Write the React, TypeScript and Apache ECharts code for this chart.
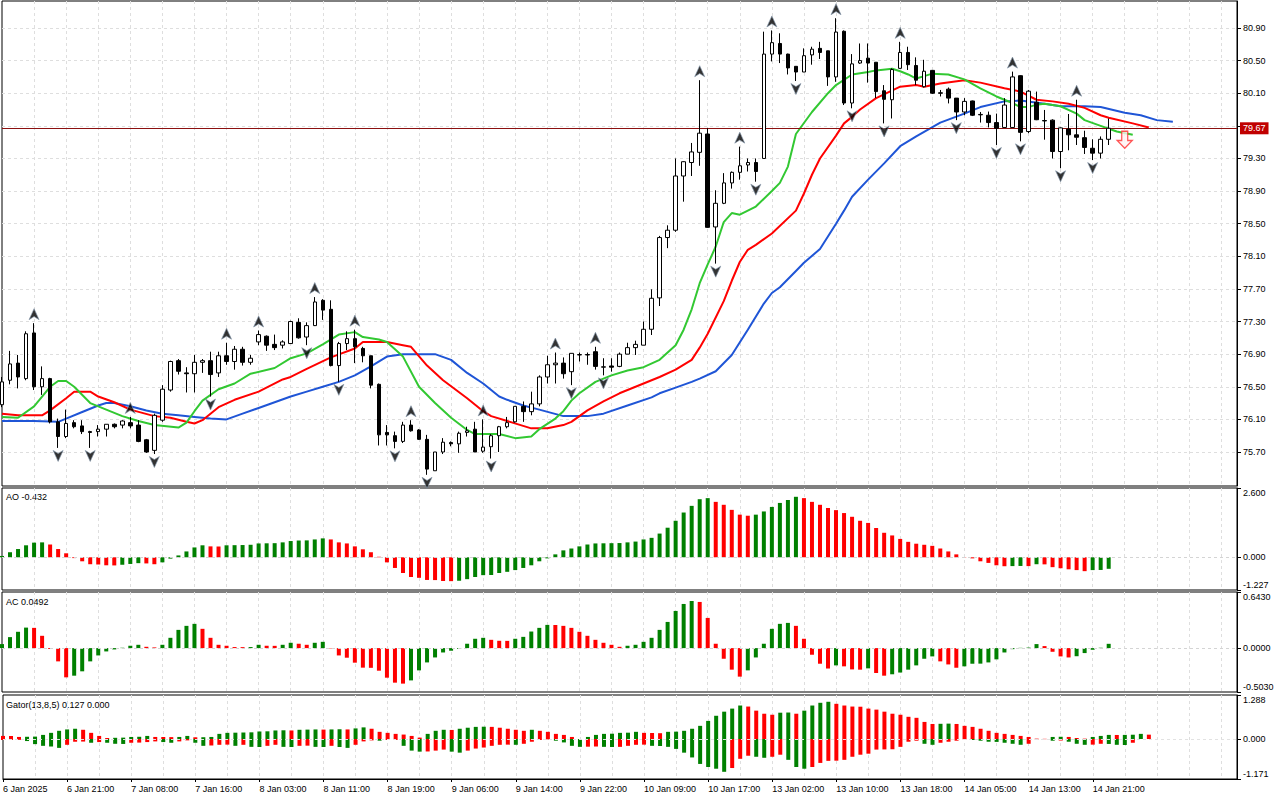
import React, { useEffect, useRef } from "react";
import * as echarts from "echarts";

// ---------- data ----------
const timeLabels = [
  "6 Jan 2025", "6 Jan 21:00", "7 Jan 08:00", "7 Jan 16:00", "8 Jan 03:00", "8 Jan 11:00",
  "8 Jan 19:00", "9 Jan 06:00", "9 Jan 14:00", "9 Jan 22:00", "10 Jan 09:00", "10 Jan 17:00",
  "13 Jan 02:00", "13 Jan 10:00", "13 Jan 18:00", "14 Jan 05:00", "14 Jan 13:00", "14 Jan 21:00",
];

const open = [
  76.28, 76.58, 76.79, 76.60, 77.16, 76.50, 76.60, 76.07, 75.89, 76.06,
  76.02, 75.95, 75.95, 75.98, 76.04, 76.03, 76.06, 76.03, 75.85, 75.72,
  76.09, 76.46, 76.82, 76.67, 76.66, 76.80, 76.82, 76.67, 76.88, 76.81,
  76.96, 76.80, 77.05, 77.12, 77.02, 77.01, 77.03, 77.29, 77.11, 77.25,
  77.56, 77.45, 76.76, 77.03, 77.09, 76.97, 76.88, 76.53, 75.94, 75.90,
  75.83, 76.03, 75.97, 75.855, 75.47, 75.70, 75.815, 75.80, 75.94, 75.98,
  75.71, 75.765, 75.90, 76.01, 76.07, 76.26, 76.195, 76.29, 76.62, 76.77,
  76.79, 76.685, 76.89, 76.895, 76.93, 76.74, 76.755, 76.75, 76.90, 76.98,
  77.01, 77.205, 77.59, 78.33, 78.42, 79.085, 79.25, 79.375, 79.60, 78.46,
  78.75, 79.00, 79.13, 79.22, 79.25, 79.30, 80.58, 80.71, 80.58, 80.43,
  80.36, 80.57, 80.65, 80.62, 80.30, 80.86, 79.98, 80.47, 80.53, 80.48,
  80.13, 80.02, 80.405, 80.60, 80.44, 80.18, 80.38, 80.105, 80.15, 80.04,
  79.87, 80.005, 79.84, 79.83, 79.74, 79.68, 79.68, 80.315, 79.63, 79.99,
  79.765, 79.77, 79.385, 79.66, 79.59, 79.555, 79.425, 79.365, 79.535,
];
const high = [
  76.62, 76.94, 76.89, 77.18, 77.28, 76.75, 76.61, 76.11, 76.22, 76.09,
  76.09, 75.96, 76.03, 76.04, 76.05, 76.09, 76.13, 76.09, 75.86, 76.17,
  76.52, 76.82, 76.84, 76.74, 76.89, 76.84, 76.93, 76.93, 77.04, 77.00,
  76.99, 76.89, 77.19, 77.13, 77.14, 77.07, 77.31, 77.34, 77.29, 77.60,
  77.575, 77.56, 77.05, 77.18, 77.20, 76.99, 76.88, 76.54, 76.03, 75.95,
  76.07, 76.09, 75.98, 75.91, 75.70, 75.87, 75.83, 75.95, 76.01, 76.07,
  76.10, 75.92, 76.02, 76.13, 76.26, 76.32, 76.44, 76.64, 76.88, 76.92,
  76.86, 76.91, 76.92, 76.92, 76.99, 76.85, 76.85, 76.92, 77.04, 77.065,
  77.30, 77.695, 78.35, 78.48, 79.30, 79.265, 79.49, 80.26, 79.67, 78.91,
  79.12, 79.14, 79.445, 79.30, 79.30, 80.855, 80.87, 80.835, 80.585, 80.43,
  80.65, 80.67, 80.73, 80.62, 81.02, 80.87, 80.58, 80.71, 80.71, 80.48,
  80.20, 80.405, 80.73, 80.67, 80.54, 80.51, 80.385, 80.14, 80.17, 80.04,
  80.04, 80.01, 79.87, 79.875, 79.85, 80.04, 80.365, 80.32, 80.14, 80.12,
  79.895, 79.78, 79.68, 79.845, 80.02, 79.64, 79.535, 79.57, 79.79,
];
const low = [
  76.25, 76.53, 76.48, 76.58, 76.46, 76.40, 76.05, 75.75, 75.87, 75.99,
  75.92, 75.75, 75.89, 75.89, 75.99, 75.99, 75.99, 75.82, 75.69, 75.675,
  76.07, 76.44, 76.65, 76.43, 76.43, 76.67, 76.38, 76.62, 76.77, 76.71,
  76.76, 76.77, 77.01, 76.94, 76.95, 76.97, 77.03, 77.09, 77.01, 77.245,
  77.32, 76.75, 76.56, 76.95, 76.79, 76.80, 76.48, 75.78, 75.78, 75.745,
  75.81, 75.95, 75.85, 75.42, 75.47, 75.675, 75.77, 75.69, 75.89, 75.70,
  75.69, 75.62, 75.70, 75.99, 76.06, 76.07, 76.15, 76.26, 76.54, 76.54,
  76.60, 76.52, 76.81, 76.77, 76.71, 76.64, 76.685, 76.74, 76.90, 76.89,
  77.01, 77.135, 77.49, 78.20, 78.40, 78.77, 79.085, 79.21, 78.45, 78.01,
  78.74, 78.93, 79.04, 79.14, 79.015, 79.30, 80.49, 80.47, 80.33, 80.25,
  80.36, 80.45, 80.52, 80.19, 80.24, 79.955, 79.915, 80.46, 80.23, 80.04,
  79.73, 79.79, 80.40, 80.385, 80.20, 80.17, 80.09, 80.06, 79.975, 79.77,
  79.83, 79.82, 79.74, 79.68, 79.465, 79.68, 79.675, 79.51, 79.61, 79.77,
  79.53, 79.30, 79.18, 79.40, 79.465, 79.355, 79.28, 79.30, 79.465,
];
const close = [
  76.56, 76.78, 76.62, 77.15, 76.50, 76.60, 76.07, 75.89, 76.05, 76.01,
  75.95, 75.94, 75.98, 76.04, 76.01, 76.08, 76.02, 75.83, 75.70, 76.15,
  76.47, 76.81, 76.69, 76.66, 76.80, 76.82, 76.65, 76.88, 76.81, 76.96,
  76.80, 76.85, 77.14, 77.01, 76.98, 77.05, 77.30, 77.10, 77.25, 77.54,
  77.44, 76.76, 77.03, 77.09, 76.99, 76.88, 76.52, 75.91, 75.91, 75.83,
  76.03, 75.96, 75.855, 75.49, 75.70, 75.82, 75.80, 75.93, 75.96, 75.70,
  75.76, 75.90, 76.01, 76.06, 76.26, 76.195, 76.29, 76.62, 76.77, 76.79,
  76.66, 76.91, 76.895, 76.89, 76.75, 76.745, 76.74, 76.90, 76.98, 77.02,
  77.205, 77.585, 78.33, 78.42, 79.085, 79.26, 79.38, 79.61, 78.455, 78.75,
  79.00, 79.13, 79.21, 79.25, 79.14, 80.58, 80.72, 80.58, 80.41, 80.36,
  80.56, 80.64, 80.60, 80.30, 80.85, 79.98, 80.46, 80.50, 80.47, 80.12,
  80.025, 80.39, 80.60, 80.45, 80.26, 80.37, 80.10, 80.10, 80.04, 79.87,
  80.00, 79.83, 79.835, 79.74, 79.67, 79.955, 80.30, 79.62, 80.125, 79.775,
  79.76, 79.385, 79.675, 79.59, 79.56, 79.435, 79.365, 79.535, 79.67,
];

// Alligator lines: [bar index, price] points
const jaw = [
  [0, 76.08], [4, 76.08], [7, 76.07], [8, 76.11], [10, 76.19], [12, 76.27], [13, 76.3], [14, 76.3],
  [16, 76.26], [18, 76.21], [20, 76.17], [22, 76.15], [24, 76.13], [26, 76.11], [28, 76.1], [30, 76.17],
  [32, 76.24], [34, 76.31], [36, 76.38], [38, 76.44], [40, 76.5], [42, 76.56], [44, 76.64], [46, 76.75],
  [48, 76.87], [50, 76.9], [54, 76.9], [56, 76.83], [58, 76.67], [60, 76.54], [62, 76.38], [63, 76.34],
  [65, 76.27], [67, 76.22], [70, 76.14], [73, 76.14], [75, 76.17], [78, 76.27], [81, 76.37], [82, 76.42],
  [84, 76.49], [86, 76.56], [87, 76.6], [89, 76.69], [91, 76.89], [93, 77.2], [95, 77.52], [96, 77.65],
  [97, 77.72], [99, 77.92], [100, 78.02], [102, 78.19], [104, 78.5], [105, 78.66], [106, 78.83], [108, 79.04],
  [110, 79.24], [112, 79.45], [114, 79.57], [117, 79.74], [120, 79.85], [122, 79.93], [125, 80.0], [127, 80.01],
  [130, 79.97], [132, 79.94], [135, 79.94], [137, 79.93], [140, 79.86], [142, 79.83], [144, 79.77], [146, 79.75],
];
const teeth = [
  [0, 76.17], [2, 76.15], [5, 76.15], [6, 76.21], [8, 76.36], [9, 76.44], [11, 76.44], [12, 76.38],
  [14, 76.31], [16, 76.22], [19, 76.14], [21, 76.12], [23, 76.07], [24, 76.05], [25, 76.09], [27, 76.25],
  [29, 76.34], [32, 76.44], [35, 76.59], [36, 76.62], [38, 76.72], [41, 76.86], [44, 76.97], [45, 77.05],
  [48, 77.05], [50, 77.01], [51, 76.99], [53, 76.76], [55, 76.58], [58, 76.36], [60, 76.2], [61, 76.14],
  [63, 76.08], [66, 75.99], [68, 75.99], [70, 76.03], [71, 76.07], [73, 76.21], [75, 76.32], [77, 76.42],
  [79, 76.5], [82, 76.62], [84, 76.71], [86, 76.83], [87, 76.98], [88, 77.15], [90, 77.55], [91, 77.8],
  [92, 78.03], [93, 78.18], [94, 78.24], [96, 78.38], [99, 78.66], [100, 78.87], [101, 79.1], [102, 79.3],
  [104, 79.58], [105, 79.73], [106, 79.81], [107, 79.9], [109, 80.04], [112, 80.18], [114, 80.2], [115, 80.18],
  [117, 80.22], [120, 80.26], [122, 80.23], [125, 80.16], [127, 80.12], [129, 80.02], [131, 80.0], [133, 79.97],
  [135, 79.92], [137, 79.83], [138, 79.8], [141, 79.73], [143, 79.68],
];
const lips = [
  [0, 76.13], [2, 76.12], [4, 76.26], [6, 76.5], [7, 76.57], [8, 76.57], [9, 76.5], [11, 76.3],
  [13, 76.22], [15, 76.14], [17, 76.08], [19, 76.03], [22, 76.0], [23, 76.06], [24, 76.2], [25, 76.33],
  [27, 76.47], [29, 76.54], [31, 76.66], [34, 76.73], [36, 76.85], [38, 76.91], [40, 77.02], [42, 77.14],
  [44, 77.17], [45, 77.11], [47, 77.08], [48, 77.05], [50, 76.87], [52, 76.5], [54, 76.3], [56, 76.12],
  [58, 75.97], [59, 75.92], [62, 75.92], [64, 75.87], [66, 75.89], [67, 75.98], [69, 76.11], [70, 76.2],
  [71, 76.33], [72, 76.42], [74, 76.56], [76, 76.64], [78, 76.7], [80, 76.74], [82, 76.83], [84, 77.01],
  [85, 77.2], [86, 77.45], [87, 77.77], [88, 78.0], [89, 78.22], [90, 78.52], [91, 78.63], [92, 78.61],
  [94, 78.71], [96, 78.9], [97, 79.0], [98, 79.2], [99, 79.6], [101, 79.87], [103, 80.1], [104, 80.2],
  [106, 80.33], [108, 80.36], [109, 80.38], [111, 80.4], [112, 80.37], [113, 80.33], [114, 80.28], [115, 80.31],
  [116, 80.34], [118, 80.33], [120, 80.27], [122, 80.16], [124, 80.06], [126, 79.98], [127, 79.93], [128, 79.93],
  [129, 79.96], [130, 79.97], [132, 79.94], [134, 79.85], [135, 79.77], [137, 79.7], [139, 79.63], [141, 79.59],
];

const fractalUp = [4, 16, 28, 32, 39, 44, 51, 60, 69, 74, 87, 92, 96, 104, 112, 126, 134];
const fractalDown = [7, 11, 19, 26, 38, 42, 49, 53, 61, 71, 75, 89, 94, 99, 106, 110, 119, 124, 127, 132, 136];
const sellSignal = [140, 79.53];
const lastPrice = 79.67;

const ao = [
  0.05, 0.19, 0.31, 0.45, 0.55, 0.56, 0.48, 0.31, 0.15, -0.03,
  -0.15, -0.26, -0.27, -0.3, -0.305, -0.28, -0.25, -0.22, -0.23, -0.26,
  -0.19, -0.05, 0.07, 0.22, 0.37, 0.45, 0.41, 0.405, 0.45, 0.455,
  0.46, 0.47, 0.52, 0.525, 0.53, 0.56, 0.61, 0.63, 0.635, 0.67,
  0.71, 0.67, 0.56, 0.52, 0.41, 0.3, 0.19, 0.02, -0.19, -0.4,
  -0.59, -0.74, -0.77, -0.85, -0.855, -0.89, -0.895, -0.88, -0.82, -0.74,
  -0.67, -0.665, -0.59, -0.545, -0.48, -0.4, -0.3, -0.15, -0.04, 0.11,
  0.26, 0.33, 0.41, 0.48, 0.52, 0.525, 0.53, 0.535, 0.56, 0.59,
  0.67, 0.73, 0.89, 1.11, 1.37, 1.68, 1.93, 2.18, 2.22, 2.08,
  1.97, 1.78, 1.6, 1.56, 1.6, 1.72, 1.89, 2.04, 2.15, 2.27,
  2.22, 2.08, 1.97, 1.85, 1.77, 1.66, 1.52, 1.37, 1.29, 1.1,
  0.92, 0.82, 0.69, 0.58, 0.51, 0.47, 0.43, 0.33, 0.22, 0.11,
  0.01, -0.04, -0.15, -0.21, -0.3, -0.335, -0.33, -0.325, -0.33, -0.26,
  -0.265, -0.37, -0.41, -0.45, -0.48, -0.52, -0.48, -0.475, -0.432,
];
const ac = [
  0.046, 0.126, 0.187, 0.235, 0.232, 0.141, -0.01, -0.152, -0.335, -0.316,
  -0.266, -0.152, -0.084, -0.038, -0.015, 0.004, 0.027, 0.038, 0.015, 0.008,
  0.038, 0.118, 0.209, 0.255, 0.278, 0.221, 0.118, 0.038, 0.027, 0.012,
  0.011, 0.012, 0.038, 0.027, 0.026, 0.038, 0.061, 0.05, 0.038, 0.061,
  0.072, -0.004, -0.084, -0.11, -0.167, -0.224, -0.226, -0.259, -0.339, -0.396,
  -0.407, -0.37, -0.255, -0.164, -0.107, -0.05, -0.03, -0.01, 0.05, 0.107,
  0.118, 0.095, 0.084, 0.083, 0.107, 0.129, 0.19, 0.232, 0.266, 0.265,
  0.255, 0.232, 0.187, 0.141, 0.095, 0.061, 0.038, 0.015, 0.027, 0.038,
  0.072, 0.118, 0.209, 0.3, 0.426, 0.506, 0.54, 0.529, 0.346, 0.05,
  -0.122, -0.247, -0.327, -0.255, -0.107, 0.05, 0.221, 0.278, 0.289, 0.255,
  0.107, -0.076, -0.179, -0.234, -0.198, -0.209, -0.244, -0.247, -0.232, -0.285,
  -0.316, -0.3, -0.28, -0.247, -0.198, -0.122, -0.095, -0.152, -0.187, -0.225,
  -0.209, -0.179, -0.178, -0.164, -0.129, -0.05, -0.012, 0.003, 0.006, 0.046,
  0.023, -0.042, -0.095, -0.107, -0.093, -0.057, -0.019, 0.004, 0.0492,
];
const gatorUp = [
  0.09, 0.088, 0.06, 0.065, 0.07, 0.12, 0.18, 0.24, 0.28, 0.3,
  0.27, 0.18, 0.09, 0.03, 0.035, 0.04, 0.06, 0.065, 0.09, 0.06,
  0.058, 0.055, 0.06, 0.09, 0.05, 0.052, 0.06, 0.15, 0.18, 0.185,
  0.19, 0.195, 0.22, 0.225, 0.25, 0.255, 0.25, 0.27, 0.275, 0.28,
  0.275, 0.28, 0.285, 0.28, 0.31, 0.34, 0.3, 0.21, 0.18, 0.15,
  0.13, 0.09, 0.04, 0.15, 0.24, 0.27, 0.265, 0.3, 0.33, 0.355,
  0.36, 0.355, 0.33, 0.3, 0.27, 0.24, 0.27, 0.24, 0.21, 0.15,
  0.12, 0.06, 0.0, 0.06, 0.12, 0.15, 0.155, 0.18, 0.185, 0.21,
  0.18, 0.175, 0.17, 0.21, 0.215, 0.24, 0.3, 0.385, 0.53, 0.68,
  0.8, 0.89, 0.98, 0.95, 0.83, 0.74, 0.71, 0.77, 0.775, 0.74,
  0.83, 0.98, 1.06, 1.09, 1.03, 0.98, 0.95, 0.945, 0.89, 0.86,
  0.8, 0.74, 0.71, 0.65, 0.62, 0.5, 0.44, 0.445, 0.45, 0.44,
  0.385, 0.355, 0.3, 0.24, 0.18, 0.15, 0.12, 0.09, 0.06, 0.01,
  0.005, 0.06, 0.065, 0.06, 0.03, 0.01, 0.06, 0.09, 0.12, 0.118,
  0.12, 0.125, 0.15, 0.127,
];
const gatorDown = [
  0.03, 0.028, 0.025, 0.06, 0.15, 0.2, 0.22, 0.26, 0.17, 0.08,
  0.075, 0.11, 0.09, 0.11, 0.14, 0.145, 0.11, 0.105, 0.09, 0.07,
  0.09, 0.11, 0.07, 0.04, 0.11, 0.2, 0.19, 0.17, 0.165, 0.2,
  0.17, 0.23, 0.235, 0.2, 0.17, 0.23, 0.235, 0.2, 0.195, 0.23,
  0.235, 0.2, 0.235, 0.26, 0.17, 0.07, 0.04, 0.05, 0.03, 0.028,
  0.2, 0.34, 0.37, 0.365, 0.34, 0.31, 0.37, 0.4, 0.34, 0.28,
  0.25, 0.2, 0.17, 0.165, 0.17, 0.14, 0.08, 0.03, 0.01, 0.05,
  0.1, 0.2, 0.23, 0.225, 0.22, 0.23, 0.235, 0.23, 0.2, 0.17,
  0.165, 0.2, 0.205, 0.23, 0.29, 0.4, 0.54, 0.73, 0.82, 0.87,
  0.96, 0.85, 0.58, 0.49, 0.52, 0.55, 0.52, 0.46, 0.61, 0.82,
  0.87, 0.82, 0.7, 0.64, 0.635, 0.61, 0.52, 0.46, 0.43, 0.31,
  0.305, 0.3, 0.23, 0.08, 0.05, 0.14, 0.17, 0.11, 0.08, 0.05,
  0.01, 0.03, 0.05, 0.08, 0.085, 0.11, 0.14, 0.17, 0.14, 0.01,
  0.005, 0.05, 0.045, 0.08, 0.14, 0.17, 0.165, 0.14, 0.145, 0.17,
  0.175, 0.11,
];

const priceTicks = [75.7, 76.1, 76.5, 76.9, 77.3, 77.7, 78.1, 78.5, 78.9, 79.3, 79.7, 80.1, 80.5, 80.9];
const priceRange = [75.283, 81.231];
const aoRange = [-1.227, 2.6];
const acRange = [-0.503, 0.643];
const gatorRange = [-1.171, 1.288];

// ---------- layout / style ----------
const SLOTS = 155;
const LEFT = 2;
const WIDTH = 1235;
const PANELS = [
  { top: 1, height: 485 },
  { top: 488, height: 102 },
  { top: 592, height: 100 },
  { top: 695, height: 84 },
];
const FONT = "'Liberation Sans', Arial, sans-serif";
const GREEN = "#008000";
const RED = "#ff0000";
const GRID_LINE = { color: "#dedede", type: [3, 3] as any, width: 1 };
const UP_PATH = "path://M5,0 L10,10 L5,7.2 L0,10 Z";
const DOWN_PATH = "path://M0,0 L5,2.8 L10,0 L5,10 Z";
const SELL_PATH = "path://M3,0 L7,0 L7,6 L10,6 L5,11 L0,6 L3,6 Z";

const categories = Array.from({ length: SLOTS }, (_, i) =>
  i % 8 === 0 && i / 8 < timeLabels.length ? timeLabels[i / 8] : `#${i}`
);
const isLabel = (i: number) => i % 8 === 0 && i / 8 < timeLabels.length;

function colorBars(vals: number[], firstColor: string, sign = 1) {
  return vals.map((v, i) => ({
    value: sign * v,
    itemStyle: { color: i === 0 ? firstColor : v > vals[i - 1] ? GREEN : RED },
  }));
}

function subAxis(k: number, range: number[], digits: number) {
  const [mn, mx] = range;
  const vals = [mn, 0, mx];
  return {
    type: "value",
    gridIndex: k,
    position: "right",
    min: mn,
    max: mx,
    axisLine: { show: true, onZero: false, lineStyle: { color: "#000" } },
    axisTick: { show: true, length: 4, customValues: vals, lineStyle: { color: "#000" } },
    axisLabel: {
      customValues: vals,
      margin: 6,
      color: "#000",
      fontSize: 9,
      fontFamily: FONT,
      formatter: (v: number) => {
        const s = v.toFixed(digits);
        if (Math.abs(v - mx) < 1e-9) return `{t|${s}}`;
        if (Math.abs(v - mn) < 1e-9) return `{b|${s}}`;
        return s;
      },
      rich: {
        t: { padding: [10, 0, 0, 0], fontSize: 9, fontFamily: FONT, color: "#000" },
        b: { padding: [0, 0, 10, 0], fontSize: 9, fontFamily: FONT, color: "#000" },
      },
    },
    splitLine: { show: false },
  };
}

function zeroLine(color: string) {
  return {
    silent: true,
    symbol: ["none", "none"],
    label: { show: false },
    lineStyle: { color, type: [3, 3], width: 1 },
    data: [{ yAxis: 0 }],
  };
}

function buildOption() {
  const grid = PANELS.map((p) => ({
    left: LEFT,
    width: WIDTH,
    top: p.top,
    height: p.height,
    show: true,
    borderColor: "#000",
    borderWidth: 1,
    backgroundColor: "#fff",
    containLabel: false,
  }));

  const xAxis = PANELS.map((_, k) => ({
    type: "category",
    gridIndex: k,
    position: "bottom",
    data: categories,
    boundaryGap: false,
    axisLine: { show: k === 3, onZero: false, lineStyle: { color: "#000" } },
    axisTick: {
      show: k === 3,
      interval: (i: number) => isLabel(i),
      length: 3,
      lineStyle: { color: "#000" },
    },
    axisLabel: {
      show: k === 3,
      interval: (i: number) => isLabel(i),
      align: "left",
      margin: 5,
      color: "#000",
      fontSize: 9,
      fontFamily: FONT,
    },
    splitLine: {
      show: true,
      interval: (i: number) => i % 4 === 0 && i > 0,
      lineStyle: GRID_LINE,
    },
  }));

  const yAxis = [
    {
      type: "value",
      gridIndex: 0,
      position: "right",
      min: priceRange[0],
      max: priceRange[1],
      axisLine: { show: true, onZero: false, lineStyle: { color: "#000" } },
      axisTick: { show: true, length: 4, customValues: priceTicks, lineStyle: { color: "#000" } },
      axisLabel: {
        customValues: priceTicks.filter((v) => Math.abs(v - 79.7) > 1e-9),
        formatter: (v: number) => v.toFixed(2),
        margin: 6,
        color: "#000",
        fontSize: 9,
        fontFamily: FONT,
      },
      splitLine: { show: true, lineStyle: GRID_LINE },
    },
    subAxis(1, aoRange, 3),
    subAxis(2, acRange, 4),
    subAxis(3, gatorRange, 3),
  ];

  const lineSeries = (data: number[][], color: string) => ({
    type: "line",
    xAxisIndex: 0,
    yAxisIndex: 0,
    data,
    symbol: "none",
    showSymbol: false,
    silent: true,
    z: 3,
    lineStyle: { color, width: 2 },
  });

  const series: any[] = [
    lineSeries(jaw, "#1f55d6"),
    lineSeries(teeth, "#ff0000"),
    lineSeries(lips, "#32c832"),
    {
      type: "candlestick",
      xAxisIndex: 0,
      yAxisIndex: 0,
      barWidth: 4,
      z: 5,
      silent: true,
      data: open.map((o, i) => [o, close[i], low[i], high[i]]),
      itemStyle: {
        color: "#ffffff",
        color0: "#000000",
        borderColor: "#000000",
        borderColor0: "#000000",
        borderWidth: 1,
      },
      markLine: {
        silent: true,
        symbol: ["none", "none"],
        data: [{ yAxis: lastPrice }],
        lineStyle: { color: "#8b1010", width: 1, type: "solid" },
        label: {
          show: true,
          position: "end",
          distance: 3,
          formatter: lastPrice.toFixed(2),
          color: "#fff",
          backgroundColor: "#c00000",
          padding: [2, 3, 1, 3],
          fontSize: 9,
          fontFamily: FONT,
        },
      },
    },
    {
      type: "scatter",
      xAxisIndex: 0,
      yAxisIndex: 0,
      z: 6,
      silent: true,
      symbol: UP_PATH,
      symbolSize: [10, 11],
      symbolOffset: [0, -9],
      itemStyle: { color: "#000", borderColor: "#8396ab", borderWidth: 0.8 },
      data: fractalUp.map((i) => [i, high[i]]),
    },
    {
      type: "scatter",
      xAxisIndex: 0,
      yAxisIndex: 0,
      z: 6,
      silent: true,
      symbol: DOWN_PATH,
      symbolSize: [10, 11],
      symbolOffset: [0, 8],
      itemStyle: { color: "#000", borderColor: "#8396ab", borderWidth: 0.8 },
      data: fractalDown.map((i) => [i, low[i]]),
    },
    {
      type: "scatter",
      xAxisIndex: 0,
      yAxisIndex: 0,
      z: 6,
      silent: true,
      symbol: SELL_PATH,
      symbolSize: [15, 17],
      itemStyle: { color: "#fff2f2", borderColor: "#ff2a2a", borderWidth: 1.3 },
      data: [sellSignal],
    },
    {
      type: "bar",
      xAxisIndex: 1,
      yAxisIndex: 1,
      barWidth: 4,
      silent: true,
      data: colorBars(ao, GREEN),
      markLine: zeroLine("#d4d4d4"),
    },
    {
      type: "bar",
      xAxisIndex: 2,
      yAxisIndex: 2,
      barWidth: 4,
      silent: true,
      data: colorBars(ac, GREEN),
      markLine: zeroLine("#d4d4d4"),
    },
    {
      type: "bar",
      xAxisIndex: 3,
      yAxisIndex: 3,
      barWidth: 4,
      barGap: "-100%",
      silent: true,
      data: colorBars(gatorUp, RED),
    },
    {
      type: "bar",
      xAxisIndex: 3,
      yAxisIndex: 3,
      barWidth: 4,
      barGap: "-100%",
      silent: true,
      data: colorBars(gatorDown, RED, -1),
      markLine: zeroLine("#e2e2e2"),
    },
  ];

  const lastGatorDown = gatorDown[gatorUp.length - 1] ?? 0;
  const titleStyle = { font: `9px ${FONT}`, fill: "#000" };
  const graphic = [
    { type: "text", left: 6, top: 492, silent: true, style: { ...titleStyle, text: `AO ${ao[ao.length - 1].toFixed(3)}` } },
    { type: "text", left: 6, top: 597, silent: true, style: { ...titleStyle, text: `AC ${ac[ac.length - 1].toFixed(4)}` } },
    {
      type: "text",
      left: 6,
      top: 700,
      silent: true,
      style: {
        ...titleStyle,
        text: `Gator(13,8,5) ${gatorUp[gatorUp.length - 1].toFixed(3)} ${lastGatorDown.toFixed(3)}`,
      },
    },
  ];

  return {
    animation: false,
    backgroundColor: "#ffffff",
    textStyle: { fontFamily: FONT, fontSize: 9, color: "#000" },
    grid,
    xAxis,
    yAxis,
    series,
    graphic,
  };
}

export default function App() {
  const ref = useRef<HTMLDivElement>(null);
  useEffect(() => {
    document.body.style.margin = "0";
    if (!ref.current) return;
    const chart = echarts.init(ref.current, null, { renderer: "svg" });
    chart.setOption(buildOption() as any);
    return () => chart.dispose();
  }, []);
  return <div ref={ref} style={{ width: 1280, height: 800, background: "#fff" }} />;
}
